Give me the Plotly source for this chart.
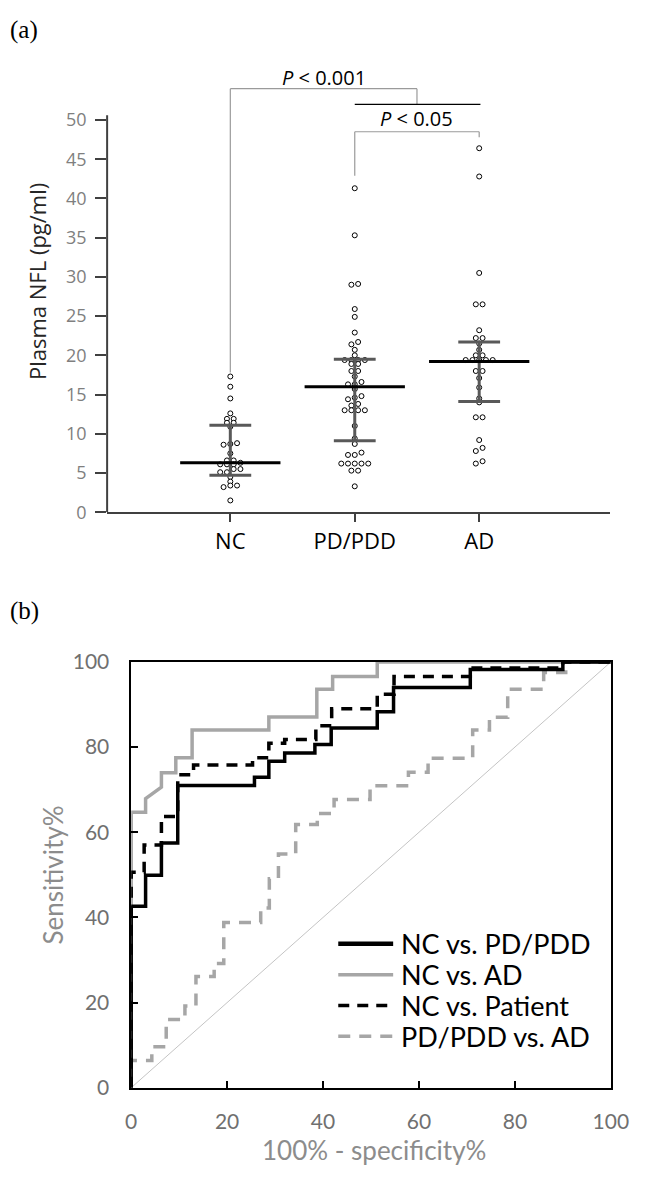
import plotly.graph_objects as go

W, H = 650, 1179

# ---------------- Panel (a) data ----------------
groups = ["NC", "PD/PDD", "AD"]
nc_vals = [17.3, 16.0, 14.5, 12.6, 11.9, 11.9, 11.4, 11.4, 10.9, 8.8, 8.7, 8.6,
           7.5, 6.6, 6.6, 6.3, 6.1, 6.1, 6.1, 5.5, 5.5, 5.1, 5.1, 4.5, 3.9,
           3.4, 3.4, 3.2, 1.5]
pd_vals = [41.3, 35.3, 29.1, 29.0, 25.9, 24.9, 22.9, 21.7, 21.4, 20.7, 20.0,
           19.4, 19.4, 19.4, 19.4, 18.9, 18.9, 18.0, 18.0, 17.3, 16.6, 16.3,
           16.3, 15.7, 14.8, 14.6, 14.4, 13.8, 13.6, 13.0, 13.0, 13.0, 13.0,
           11.0, 9.4, 8.7, 7.6, 7.3, 7.3, 6.2, 6.2, 6.2, 6.2, 6.2, 5.3, 5.3, 3.3]
ad_vals = [46.4, 42.8, 30.5, 26.5, 26.5, 23.2, 22.2, 22.2, 21.5, 20.7, 20.0,
           20.0, 19.4, 19.4, 19.4, 19.4, 19.4, 18.0, 18.0, 17.1, 15.9, 14.5,
           14.0, 12.1, 12.1, 9.2, 8.2, 7.8, 6.5, 6.2]
medians = [6.3, 16.0, 19.2]
q1 = [4.7, 9.1, 14.1]
q3 = [11.1, 19.5, 21.7]
yticks_a = [0, 5, 10, 15, 20, 25, 30, 35, 40, 45, 50]

p_labels = ["<i>P</i> < 0.001", "<i>P</i> < 0.05"]

# ---------------- Panel (b) data ----------------
roc_names = ["NC vs. PD/PDD", "NC vs. AD", "NC vs. Patient", "PD/PDD vs. AD"]
# operating points (100% - specificity, sensitivity)
pdpdd_fpr = [0, 0, 3.0, 6.3, 9.7, 25.7, 28.7, 32.0, 38.3, 41.7, 51.3, 54.7, 70.7, 90.0, 100]
pdpdd_tpr = [0, 42.6, 49.9, 57.5, 71.0, 72.9, 76.7, 78.6, 80.6, 84.5, 88.3, 94.0, 98.2, 100, 100]

ad_fpr = [0, 0, 3.0, 3.0, 6.3, 6.3, 9.3, 9.3, 12.7, 12.7, 28.7, 28.7, 38.7, 38.7, 42.0, 42.0, 51.3, 51.3, 100]
ad_tpr = [0, 64.7, 64.7, 67.9, 70.6, 74.0, 74.0, 77.5, 77.5, 84.0, 84.0, 87.1, 87.1, 93.6, 93.6, 96.6, 96.6, 100, 100]

pat_fpr = [0, 0, 2.7, 6.3, 9.7, 13.0, 25.3, 28.7, 32.0, 38.5, 41.8, 51.3, 54.8, 70.7, 90.0, 100]
pat_tpr = [0, 50.6, 57.0, 63.7, 73.5, 75.8, 77.5, 80.9, 81.8, 85.0, 89.0, 92.4, 96.6, 98.6, 100, 100]

pdad_fpr = [0, 0, 4.3, 7.3, 11.2, 13.5, 17.3, 19.3, 27.0, 28.8, 30.7, 34.3, 38.8, 42.3,
            49.8, 57.8, 61.9, 71.2, 74.7, 78.5, 86.0, 90.6, 100]
pdad_tpr = [0, 6.4, 9.6, 16.0, 19.2, 26.1, 29.2, 38.8, 42.2, 49.1, 54.9, 61.8, 64.4, 67.7,
            70.9, 74.1, 77.4, 84.0, 87.0, 93.6, 97.5, 100, 100]

diag = [0, 100]
ticks_b = [0, 20, 40, 60, 80, 100]

# ---------------- geometry (pixels) ----------------
A_L, A_R, A_B = 105, 627, 509
A_XR = [-0.99, 3.05]
A_YR = [0, 57]
A_PPU = 8.014                      # px per unit on the NFL axis
A_T = A_B - A_YR[1] * A_PPU
B_L, B_R, B_B, B_T = 130, 628, 1097, 662

def fx(p):
    return p / W

def fy(p):
    return 1 - p / H

px_per_x = (A_R - A_L) / (A_XR[1] - A_XR[0])


def swarm(vals, center, thr=0.45, step_px=7.0):
    order = sorted(range(len(vals)), key=lambda i: vals[i])
    xs = [center] * len(vals)
    grps, cur = [], []
    for i in order:
        if cur and vals[i] - vals[cur[0]] > thr:
            grps.append(cur)
            cur = []
        cur.append(i)
    if cur:
        grps.append(cur)
    for g in grps:
        n = len(g)
        for k, i in enumerate(g):
            xs[i] = center + (k - (n - 1) / 2) * step_px / px_per_x
    return xs


fig = go.Figure()

# points
for gi, vals in enumerate([nc_vals, pd_vals, ad_vals]):
    fig.add_trace(go.Scatter(
        x=swarm(vals, gi), y=vals, mode="markers",
        marker=dict(symbol="circle", size=5, color="white",
                    line=dict(color="black", width=1)),
        showlegend=False, xaxis="x", yaxis="y", hoverinfo="y"))

# IQR whiskers and caps
CAP = 0.168
MED = 0.403
wx, wy = [], []
for gi in range(len(groups)):
    wx += [gi, gi, None, gi - CAP, gi + CAP, None, gi - CAP, gi + CAP, None]
    wy += [q1[gi], q3[gi], None, q1[gi], q1[gi], None, q3[gi], q3[gi], None]
fig.add_trace(go.Scatter(x=wx, y=wy, mode="lines",
                         line=dict(color="#595959", width=3),
                         showlegend=False, xaxis="x", yaxis="y", hoverinfo="skip"))
mx, my = [], []
for gi in range(len(groups)):
    mx += [gi - MED, gi + MED, None]
    my += [medians[gi], medians[gi], None]
fig.add_trace(go.Scatter(x=mx, y=my, mode="lines",
                         line=dict(color="black", width=3),
                         showlegend=False, xaxis="x", yaxis="y", hoverinfo="skip"))

# ROC curves
roc_style = {
    roc_names[0]: dict(color="black", width=3.5, dash="solid"),
    roc_names[1]: dict(color="#a6a6a6", width=3.5, dash="solid"),
    roc_names[2]: dict(color="black", width=3.5, dash="11px,8px"),
    roc_names[3]: dict(color="#a6a6a6", width=3.5, dash="12px,9px"),
}
fig.add_trace(go.Scatter(x=diag, y=diag, mode="lines",
                         line=dict(color="#c4c4c4", width=1),
                         showlegend=False, xaxis="x2", yaxis="y2", hoverinfo="skip"))
fig.add_trace(go.Scatter(x=pdad_fpr, y=pdad_tpr, mode="lines", name=roc_names[3],
                         line=dict(**roc_style[roc_names[3]], shape="hv"),
                         showlegend=False, xaxis="x2", yaxis="y2"))
fig.add_trace(go.Scatter(x=ad_fpr, y=ad_tpr, mode="lines", name=roc_names[1],
                         line=dict(**roc_style[roc_names[1]]),
                         showlegend=False, xaxis="x2", yaxis="y2"))
fig.add_trace(go.Scatter(x=pat_fpr, y=pat_tpr, mode="lines", name=roc_names[2],
                         line=dict(**roc_style[roc_names[2]], shape="hv"),
                         showlegend=False, xaxis="x2", yaxis="y2"))
fig.add_trace(go.Scatter(x=pdpdd_fpr, y=pdpdd_tpr, mode="lines", name=roc_names[0],
                         line=dict(**roc_style[roc_names[0]], shape="hv"),
                         showlegend=False, xaxis="x2", yaxis="y2"))

# shapes: y-axis line of panel a and significance brackets
shapes = [
    dict(type="line", xref="paper", yref="y", x0=fx(A_L), x1=fx(A_L), y0=0, y1=50.6,
         line=dict(color="#404040", width=2)),
]
br_gray = dict(color="#9a9a9a", width=1.2)
shapes += [
    dict(type="line", xref="x", yref="y", x0=0, x1=0, y0=17.8, y1=54.0, line=br_gray),
    dict(type="line", xref="x", yref="y", x0=0, x1=1.5, y0=54.0, y1=54.0, line=br_gray),
    dict(type="line", xref="x", yref="y", x0=1.5, x1=1.5, y0=54.0, y1=52.0, line=br_gray),
    dict(type="line", xref="x", yref="y", x0=1.0, x1=2.01, y0=52.0, y1=52.0,
         line=dict(color="black", width=1.2)),
    dict(type="line", xref="x", yref="y", x0=1, x1=1, y0=42.9, y1=48.5, line=br_gray),
    dict(type="line", xref="x", yref="y", x0=1, x1=2, y0=48.5, y1=48.5, line=br_gray),
    dict(type="line", xref="x", yref="y", x0=2, x1=2, y0=48.5, y1=47.8, line=br_gray),
]

annotations = [
    dict(text="(a)", xref="paper", yref="paper", x=fx(2), y=fy(16), xanchor="left",
         yanchor="middle", showarrow=False,
         font=dict(family="Liberation Serif", size=25, color="black")),
    dict(text="(b)", xref="paper", yref="paper", x=fx(2), y=fy(610), xanchor="left",
         yanchor="middle", showarrow=False,
         font=dict(family="Liberation Serif", size=25, color="black")),
    dict(text="Plasma NFL (pg/ml)", xref="paper", yref="paper", x=fx(32), y=fy(273),
         textangle=-90, showarrow=False, xanchor="center", yanchor="middle",
         font=dict(family="Open Sans", size=22, color="#262626")),
    dict(text=p_labels[0], xref="x", yref="y", x=0.75, y=55.4, showarrow=False,
         xanchor="center", yanchor="middle",
         font=dict(family="Open Sans", size=20, color="black")),
    dict(text=p_labels[1], xref="x", yref="y", x=1.5, y=50.2, showarrow=False,
         xanchor="center", yanchor="middle",
         font=dict(family="Open Sans", size=20, color="black")),
    dict(text="Sensitivity%", xref="paper", yref="paper", x=fx(49), y=fy(880),
         textangle=-90, showarrow=False, xanchor="center", yanchor="middle",
         font=dict(family="Lato", size=26, color="#8c8c8c")),
    dict(text="100% - specificity%", xref="paper", yref="paper", x=fx(382), y=fy(1161),
         showarrow=False, xanchor="center", yanchor="middle",
         font=dict(family="Lato", size=26, color="#8c8c8c")),
]

# legend (drawn inside the ROC panel)
LEG_X0, LEG_X1, LEG_TX, LEG_Y0, LEG_DY = 345, 402, 408, 950, 31.5
for k, name in enumerate(roc_names):
    yy = fy(LEG_Y0 + k * LEG_DY)
    st = roc_style[name]
    shapes.append(dict(type="line", xref="paper", yref="paper",
                       x0=fx(LEG_X0), x1=fx(LEG_X1), y0=yy, y1=yy,
                       line=dict(color=st["color"], width=st["width"] + (1 if k == 0 else 0),
                                 dash=st["dash"])))
    annotations.append(dict(text=name, xref="paper", yref="paper", x=fx(LEG_TX), y=yy,
                            xanchor="left", yanchor="middle", showarrow=False,
                            font=dict(family="Lato", size=27, color="black")))

fig.update_layout(
    width=W, height=H, margin=dict(l=0, r=0, t=0, b=0),
    paper_bgcolor="white", plot_bgcolor="white", showlegend=False,
    shapes=shapes, annotations=annotations,
    xaxis=dict(domain=[fx(A_L), fx(A_R)], range=A_XR, tickvals=[0, 1, 2], ticktext=groups,
               ticks="outside", ticklen=8, tickwidth=2, tickcolor="#404040",
               showline=True, linecolor="#404040", linewidth=2,
               showgrid=False, zeroline=False,
               tickfont=dict(family="Open Sans", size=22, color="black")),
    yaxis=dict(domain=[fy(A_B), fy(A_T)], range=A_YR, tickvals=yticks_a,
               ticks="outside", ticklen=11, tickwidth=2, tickcolor="#404040",
               showline=False, showgrid=False, zeroline=False, ticklabelstandoff=5,
               tickfont=dict(family="Open Sans", size=18, color="#7f7f7f")),
    xaxis2=dict(domain=[fx(B_L), fx(B_R)], range=[0, 100], tickvals=ticks_b,
                ticks="inside", ticklen=7, tickwidth=1.5, tickcolor="black",
                showline=True, mirror=True, linecolor="black", linewidth=1.5,
                showgrid=False, zeroline=False, ticklabelstandoff=14,
                tickfont=dict(family="Lato", size=21, color="#707070"), anchor="y2"),
    yaxis2=dict(domain=[fy(B_B), fy(B_T)], range=[0, 100], tickvals=ticks_b,
                ticks="inside", ticklen=7, tickwidth=1.5, tickcolor="black",
                showline=True, mirror=True, linecolor="black", linewidth=1.5,
                showgrid=False, zeroline=False, ticklabelstandoff=16,
                tickfont=dict(family="Lato", size=21, color="#707070"), anchor="x2"),
)

fig.write_html("out.html", config={"displayModeBar": False},
               post_script="document.body.style.margin='0';")
